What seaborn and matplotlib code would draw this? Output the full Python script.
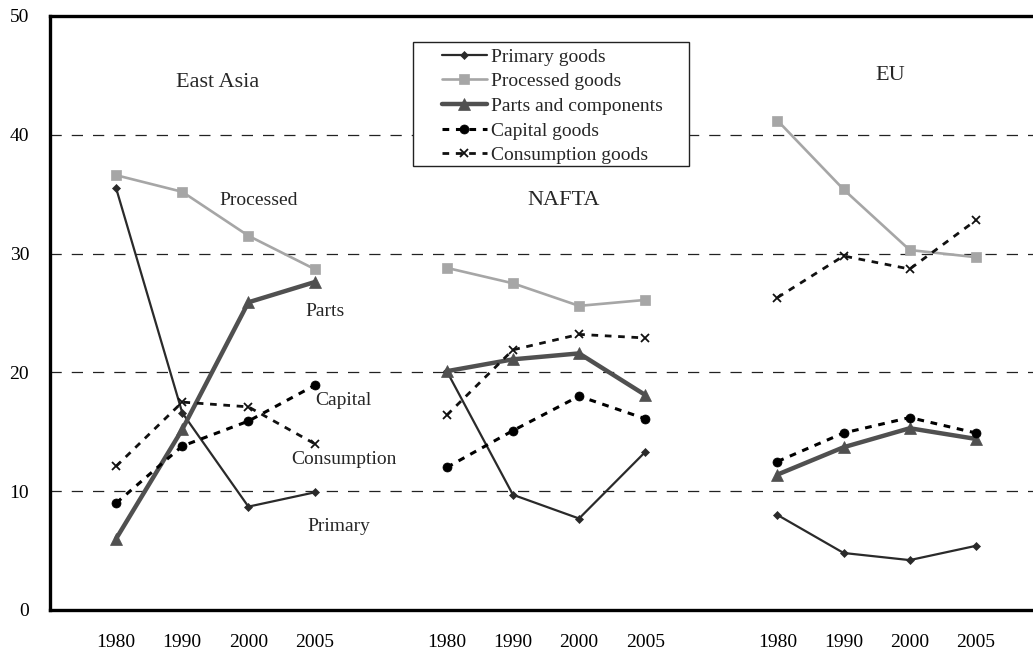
import numpy as np
import pandas as pd
import seaborn as sns
import matplotlib.pyplot as plt
from matplotlib.patches import Rectangle

sns.set_theme(style="white")
plt.rcParams['font.family'] = ['Liberation Serif', 'DejaVu Serif']
plt.rcParams['font.size'] = 14

# data (share, %)
regions = ['East Asia', 'NAFTA', 'EU']
years = ['1980', '1990', '2000', '2005']
primary = [35.5, 16.6, 8.7, 9.9, 20.1, 9.7, 7.7, 13.3, 8.0, 4.8, 4.2, 5.4]
processed = [36.6, 35.2, 31.5, 28.7, 28.8, 27.5, 25.6, 26.1, 41.2, 35.4, 30.3, 29.7]
parts = [6.0, 15.2, 25.9, 27.6, 20.1, 21.1, 21.6, 18.1, 11.4, 13.7, 15.3, 14.4]
capital = [9.0, 13.8, 15.9, 18.9, 12.0, 15.1, 18.0, 16.1, 12.5, 14.9, 16.2, 14.9]
consumption = [12.1, 17.5, 17.1, 14.0, 16.4, 21.9, 23.2, 22.9, 26.3, 29.8, 28.7, 32.8]

series = {
    'Primary goods': primary,
    'Processed goods': processed,
    'Parts and components': parts,
    'Capital goods': capital,
    'Consumption goods': consumption,
}
styles = {
    'Primary goods': dict(color='#2a2a2a', lw=1.6, marker='D', ms=4.5, ls='-'),
    'Processed goods': dict(color='#a6a6a6', lw=1.9, marker='s', ms=6.5, ls='-'),
    'Parts and components': dict(color='#505050', lw=3.2, marker='^', ms=8.5, ls='-'),
    'Capital goods': dict(color='#000000', lw=2.2, marker='o', ms=6.5, ls=(0, (2.2, 2.2))),
    'Consumption goods': dict(color='#111111', lw=2.0, marker='x', ms=6, mew=1.3, ls=(0, (2.4, 2.4))),
}

# each region takes 4 slots plus one empty slot between groups
rows = []
for name, vals in series.items():
    for r, reg in enumerate(regions):
        for j, yr in enumerate(years):
            rows.append({'pos': r * 5 + j, 'value': vals[r * 4 + j], 'series': name, 'region': reg})
df = pd.DataFrame(rows)

fig = plt.figure(figsize=(10.33, 6.52), dpi=100)
ax = fig.add_axes([50 / 1033, 42 / 652, 992 / 1033, 594 / 652])

for name in series:
    sub = df[df['series'] == name]
    st = styles[name]
    sns.lineplot(data=sub, x='pos', y='value', units='region', estimator=None,
                 ax=ax, label=name, color=st['color'], linewidth=st['lw'],
                 linestyle=st['ls'], marker=st['marker'], markersize=st['ms'],
                 markeredgewidth=st.get('mew', 0.5), markeredgecolor=st['color'],
                 legend=False, zorder=3)

ax.set_xlim(-1, 14)
ax.set_ylim(0, 50)
ax.set_yticks(range(0, 51, 10))
ax.set_xticks(range(0, 14))
ax.set_xticklabels((years + ['']) * 2 + years)
ax.set_xlabel('')
ax.set_ylabel('')
ax.tick_params(axis='x', direction='in', length=5, width=1, color='black', pad=17, labelsize=14)
ax.tick_params(axis='y', length=0, pad=15, labelsize=14)
for lab in ax.get_xticklabels() + ax.get_yticklabels():
    lab.set_color('black')

for yv in [10, 20, 30, 40]:
    ax.axhline(yv, color='#222222', lw=0.9, ls=(0, (9, 8)), zorder=1)

for side in ['left', 'bottom', 'top', 'right']:
    ax.spines[side].set_visible(True)
    ax.spines[side].set_color('black')
    ax.spines[side].set_linewidth(2.4)

# annotations
ax.text(1.54, 44.4, 'East Asia', ha='center', va='center', fontsize=16)
ax.text(6.77, 34.5, 'NAFTA', ha='center', va='center', fontsize=16)
ax.text(11.7, 45.0, 'EU', ha='center', va='center', fontsize=16)
ax.text(2.15, 34.5, 'Processed', ha='center', va='center', fontsize=14)
ax.text(3.16, 25.1, 'Parts', ha='center', va='center', fontsize=14)
ax.text(3.43, 17.6, 'Capital', ha='center', va='center', fontsize=14)
ax.text(3.45, 12.7, 'Consumption', ha='center', va='center', fontsize=14)
ax.text(3.37, 7.0, 'Primary', ha='center', va='center', fontsize=14)

# legend with an Excel-like box
handles, labels = ax.get_legend_handles_labels()
uniq = dict(zip(labels, handles))
ax.add_patch(Rectangle((0.366, 0.7475), 0.278, 0.2088, transform=ax.transAxes,
                       facecolor='white', edgecolor='#222222', lw=1.0, zorder=4))
leg = ax.legend(list(uniq.values()), list(uniq.keys()), loc='upper left',
                bbox_to_anchor=(0.395, 0.946), frameon=False, fontsize=14,
                handlelength=2.3, handletextpad=0.25, labelspacing=0.36,
                borderpad=0, borderaxespad=0)
leg.set_zorder(5)

plt.savefig('out.png', dpi=100)
